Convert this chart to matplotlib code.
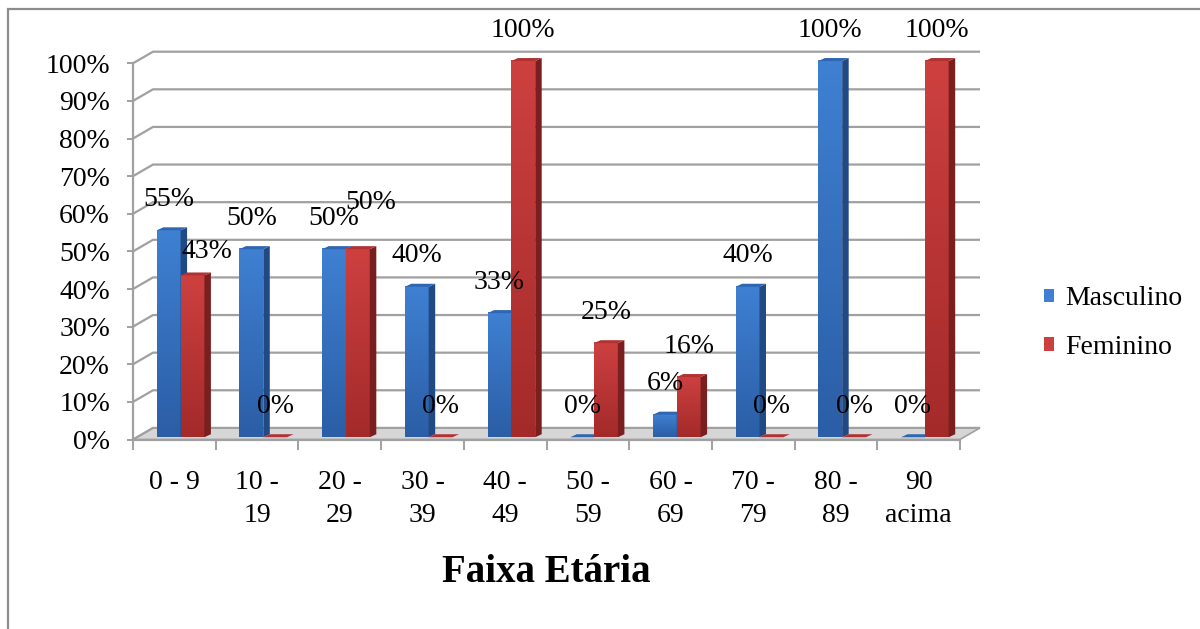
import numpy as np
import matplotlib.pyplot as plt
from matplotlib.patches import Polygon, Patch
from matplotlib.colors import LinearSegmentedColormap

# faixas etárias e percentuais por sexo
faixas = ["0 - 9", "10 -\n19", "20 -\n29", "30 -\n39", "40 -\n49",
          "50 -\n59", "60 -\n69", "70 -\n79", "80 -\n89", "90\nacima"]
masculino = [55, 50, 50, 40, 33, 0, 6, 40, 100, 0]
feminino = [43, 0, 50, 0, 100, 25, 16, 0, 0, 100]
series = ["Masculino", "Feminino"]
yticks = list(range(0, 101, 10))

plt.rcParams['font.family'] = ['Liberation Serif', 'DejaVu Serif']

W, H = 1200, 629
fig = plt.figure(figsize=(W / 100, H / 100), dpi=100)

# moldura cinza (sai pela direita e por baixo)
fig.add_artist(plt.Rectangle((8 / W, -0.1), 1.2, 1 - 9 / H + 0.1,
                             transform=fig.transFigure, fill=False,
                             ec='#8c8c8c', lw=1.6))

# área do gráfico: origem em px e escala de cada eixo
x0, y0 = 133, 439.5
sx, sy = 82.7, 3.762
xlim = (-0.1, 10.5)
ylim = (-3, 106)
ax = fig.add_axes([(x0 + xlim[0] * sx) / W,
                   1 - (y0 - ylim[0] * sy) / H,
                   (xlim[1] - xlim[0]) * sx / W,
                   (ylim[1] - ylim[0]) * sy / H])

DX, DY = 20 / sx, 11.6 / sy      # profundidade da parede do fundo
grid_c = '#a0a0a0'
n = len(faixas)

# grade na parede do fundo
for g in yticks:
    ax.plot([0, DX, n + DX], [g, g + DY, g + DY], color=grid_c, lw=1.6,
            zorder=1, solid_capstyle='butt')

# piso
ax.add_patch(Polygon([(0, 0), (n, 0), (n + DX, DY), (DX, DY)], closed=True,
                     fc='#d6d6d6', ec=grid_c, lw=1.2, zorder=0.8))

bar_w = 0.288
off_x, off_y = 0.075, 0.6
bdx, bdy = 0.079, 0.8

cores = {
    "Masculino": dict(top='#3f80d2', bottom='#2b5ea6', side='#214a84', cap='#2f66b2'),
    "Feminino": dict(top='#cd4040', bottom='#a42a2a', side='#7a1f1f', cap='#b23232'),
}


def barra3d(xl, h, c, z):
    if h > 0:
        cmap = LinearSegmentedColormap.from_list('g', [c['bottom'], c['top']])
        grad = np.linspace(1, 0, 64).reshape(-1, 1)
        ax.imshow(grad, extent=[xl, xl + bar_w, off_y, off_y + h], cmap=cmap,
                  aspect='auto', origin='upper', zorder=z, interpolation='bilinear')
        ax.add_patch(Polygon([(xl + bar_w, off_y), (xl + bar_w + bdx, off_y + bdy),
                              (xl + bar_w + bdx, off_y + h + bdy), (xl + bar_w, off_y + h)],
                             closed=True, fc=c['side'], ec='none', zorder=z))
    ax.add_patch(Polygon([(xl, off_y + h), (xl + bar_w, off_y + h),
                          (xl + bar_w + bdx, off_y + h + bdy), (xl + bdx, off_y + h + bdy)],
                         closed=True, fc=c['cap'], ec='none', zorder=z))


# deslocamento de alguns rótulos que se sobrepõem
ajuste = {("Feminino", 0): (10.4, -4.8), ("Feminino", 2): (9.0, 11.2)}

for i in range(n):
    for k, (nome, vals) in enumerate(zip(series, [masculino, feminino])):
        v = vals[i]
        xl = i + 0.5 - bar_w + k * bar_w + off_x
        barra3d(xl, v, cores[nome], 3 + i * 0.1 + k * 0.01)
        nx, ny = ajuste.get((nome, i), (0, 0))
        ax.annotate(f"{v}%", xy=(xl + bar_w / 2, off_y + v),
                    xytext=(nx, 22.3 + ny), textcoords='offset points',
                    ha='center', va='center', fontsize=20, zorder=10)

# eixos
for s in ['top', 'right']:
    ax.spines[s].set_visible(False)
ax.spines['left'].set_position(('data', 0))
ax.spines['bottom'].set_position(('data', 0))
ax.spines['left'].set_bounds(0, 100)
ax.spines['bottom'].set_bounds(0, n)
for s in ['left', 'bottom']:
    ax.spines[s].set_color(grid_c)
    ax.spines[s].set_linewidth(1.6)
    ax.spines[s].set_zorder(2)

ax.set_yticks(yticks)
ax.set_yticklabels([f"{t}%" for t in yticks])
ax.tick_params(axis='y', direction='out', length=4.5, width=1.4, color=grid_c,
               pad=12, labelsize=20)

ax.set_xticks(np.arange(n + 1))
ax.set_xticklabels([])
ax.set_xticks(np.arange(n) + 0.5, minor=True)
ax.set_xticklabels(faixas, minor=True, linespacing=1.45)
ax.tick_params(axis='x', which='major', direction='out', length=7, width=1.4,
               color=grid_c)
ax.tick_params(axis='x', which='minor', length=0, pad=21.7, labelsize=20)

ax.set_xlabel("Faixa Etária", fontsize=28, fontweight='bold', va='center')
ax.xaxis.set_label_coords((n / 2 - xlim[0]) / (xlim[1] - xlim[0]),
                          ((y0 - ylim[0] * sy) - 572) / ((ylim[1] - ylim[0]) * sy))

ax.set_xlim(*xlim)
ax.set_ylim(*ylim)
ax.patch.set_visible(False)

ax.legend(handles=[Patch(fc=cores[s]['top']) for s in series], labels=series,
          loc='center left', bbox_to_anchor=(1044 / W, 1 - 323 / H),
          bbox_transform=fig.transFigure, frameon=False, fontsize=20,
          handlelength=0.35, handleheight=0.35, handletextpad=0.4,
          labelspacing=0.86, borderpad=0, borderaxespad=0)

fig.savefig("out.png", dpi=100, facecolor='white')
